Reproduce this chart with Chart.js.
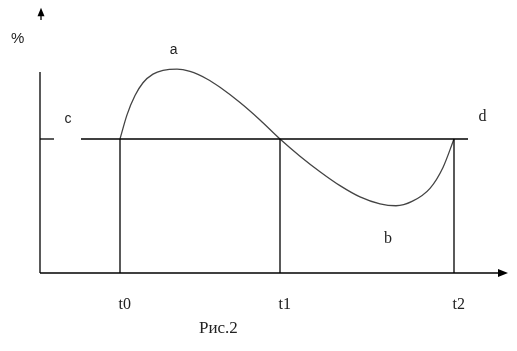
<!DOCTYPE html>
<html>
<head>
<meta charset="utf-8">
<script src="https://cdn.jsdelivr.net/npm/chart.js@4"></script>
<style>
	body { margin: 0; background: #fff; }
</style>
</head>
<body>
<canvas id="chart" width="517" height="351"></canvas>
<script>
// curve
const curveX = [20, 21.75, 23.75, 25.75, 28.25, 30.75, 34.25, 37.5, 41.75, 45, 50, 55, 60, 65, 70, 75, 80, 85, 89, 93, 97.5, 100.75, 103.5];
const curveY = [50, 59, 66.2, 71, 74.2, 75.6, 76.1, 75.2, 72.4, 69.3, 63.6, 57.1, 50, 43.6, 37.8, 32.6, 28.4, 25.8, 25.1, 26.7, 31.6, 39.4, 50];

const tickX = [20, 60, 103.5];
const tickLabels = ["t0", "t1", "t2"];
const level = 50;
const levelStub = [0, 3.5];
const levelLine = [10.25, 107];
const xAxisEnd = 115;
const yAxisEnd = 75;

// text labels: [text, x, y, font]
const labels = [
	["%", -5.6, 87.3, "15px 'Liberation Sans'"],
	["a", 33.4, 83.2, "14px 'Liberation Sans'"],
	["c", 7, 57.5, "14px 'Liberation Sans'"],
	["d", 110.6, 58.4, "16px 'Liberation Serif'"],
	["b", 87, 12.7, "16px 'Liberation Serif'"],
	["Рис.2", 44.6, -20.9, "17px 'Liberation Serif'"],
];
const tickLabelY = -11.9;

const seg = (x1, y1, x2, y2) => ({
	type: "line",
	data: [{ x: x1, y: y1 }, { x: x2, y: y2 }],
	borderColor: "#000",
	borderWidth: 1.3,
	pointRadius: 0,
	clip: false,
});

let datasets = [
	seg(0, 0, 0, yAxisEnd),
	seg(0, 0, xAxisEnd, 0),
	seg(levelStub[0], level, levelStub[1], level),
	seg(levelLine[0], level, levelLine[1], level),
];
tickX.forEach((t) => datasets.push(seg(t, 0, t, level)));
datasets.push({
	type: "line",
	data: curveX.map((x, i) => ({ x: x, y: curveY[i] })),
	borderColor: "#444",
	borderWidth: 1.3,
	pointRadius: 0,
	cubicInterpolationMode: "monotone",
	clip: false,
});

const extras = {
	id: "extras",
	afterDatasetsDraw(chart) {
		const ctx = chart.ctx;
		const sx = chart.scales.x;
		const sy = chart.scales.y;
		const px = (v) => sx.getPixelForValue(v);
		const py = (v) => sy.getPixelForValue(v);
		ctx.save();
		ctx.fillStyle = "#000";
		ctx.strokeStyle = "#000";
		ctx.lineWidth = 1.3;

		// x arrow
		ctx.beginPath();
		ctx.moveTo(px(xAxisEnd + 2), py(0));
		ctx.lineTo(px(xAxisEnd - 0.5), py(0) - 4);
		ctx.lineTo(px(xAxisEnd - 0.5), py(0) + 4);
		ctx.closePath();
		ctx.fill();

		// y arrow (detached, at the top)
		ctx.beginPath();
		ctx.moveTo(px(0.25), py(94.4));
		ctx.lineTo(px(0.25), py(96));
		ctx.stroke();
		ctx.beginPath();
		ctx.moveTo(px(0.25), py(99));
		ctx.lineTo(px(0.25) - 3.5, py(95.8));
		ctx.lineTo(px(0.25) + 3.5, py(95.8));
		ctx.closePath();
		ctx.fill();

		ctx.textAlign = "center";
		ctx.textBaseline = "middle";
		ctx.fillStyle = "#222";
		labels.forEach((l) => {
			ctx.font = l[3];
			ctx.fillText(l[0], px(l[1]), py(l[2]));
		});
		ctx.font = "16px 'Liberation Serif'";
		tickX.forEach((t, i) => {
			ctx.fillText(tickLabels[i], px(t + 1.2), py(tickLabelY));
		});
		ctx.restore();
	},
};

const chart = new Chart(document.getElementById("chart"), {
	type: "line",
	data: { datasets: datasets },
	options: {
		responsive: false,
		animation: false,
		devicePixelRatio: 1,
		layout: { padding: { left: 40, right: 17, top: 72, bottom: 78 } },
		plugins: { legend: { display: false }, tooltip: { enabled: false } },
		scales: {
			x: { type: "linear", min: 0, max: xAxisEnd, display: false },
			y: { type: "linear", min: 0, max: yAxisEnd, display: false },
		},
	},
	plugins: [extras],
});
</script>
</body>
</html>
